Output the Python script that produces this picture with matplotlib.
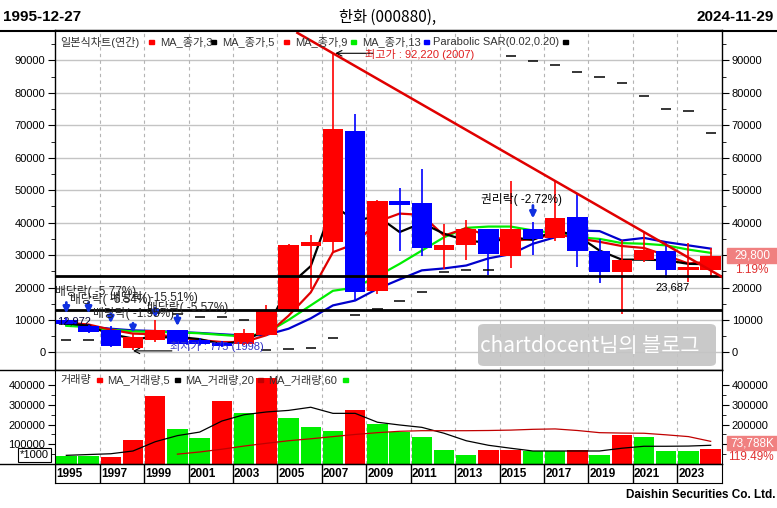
import numpy as np
import matplotlib
matplotlib.use('Agg')
import matplotlib.pyplot as plt
from matplotlib.patches import Rectangle, FancyBboxPatch
from matplotlib.lines import Line2D

plt.rcParams['font.family'] = ['Liberation Sans', 'Noto Sans CJK KR', 'DejaVu Sans']

# yearly candles 1995 - 2024
years = list(range(1995, 2025))
opens = [9900, 8000, 6800, 1450, 3700, 6800, 3700, 3000, 2500, 5500,
         13000, 32800, 34000, 68400, 18900, 46800, 46100, 31700, 33200, 38100,
         29700, 37900, 35200, 41900, 31400, 24800, 28400, 31400, 25500, 25300]
highs = [10500, 8300, 8000, 5800, 9900, 7000, 4500, 3500, 7100, 14500,
         33500, 36300, 92220, 73400, 47000, 50800, 56600, 39500, 40700, 38200,
         53000, 40200, 52800, 48900, 35000, 34700, 37100, 33600, 33700, 32100]
lows = [8500, 6000, 1700, 775, 3200, 2500, 2200, 1800, 2300, 5000,
        12500, 19600, 30900, 16000, 18000, 31200, 29700, 25800, 28400, 24000,
        26100, 29900, 34500, 26300, 21400, 11900, 27800, 23000, 21700, 23687]
closes = [8700, 6300, 1850, 4700, 7000, 2700, 2600, 2000, 5900, 12700,
          33000, 34100, 69000, 18600, 46600, 45500, 32300, 33200, 38100, 30200,
          38100, 35000, 41500, 31200, 24800, 28400, 31700, 25300, 26400, 29800]

# moving averages of close (3, 5, 9, 13) and parabolic SAR
ma3 = [9000, 8200, 5600, 4300, 4500, 4800, 4100, 2500, 3600, 6900,
       20500, 26600, 45400, 40600, 42000, 37100, 39900, 36600, 34500, 33800,
       35500, 34700, 37600, 36000, 31400, 28600, 28600, 28400, 27300, 27200]
ma5 = [9200, 8600, 7000, 5800, 5600, 4700, 3800, 3200, 3200, 5300,
       11300, 18500, 30900, 33500, 40300, 42800, 42400, 36000, 38300, 35900,
       34400, 34900, 36600, 35200, 34100, 32800, 32200, 29900, 27400, 28000]
ma9 = [8200, 7800, 7000, 6500, 6300, 6200, 5900, 5400, 4900, 6000,
       10000, 14500, 19000, 20000, 23500, 27300, 31400, 35500, 38400, 38800,
       38800, 37600, 36800, 35500, 35000, 33700, 33500, 33000, 31700, 30700]
ma13 = [8500, 8000, 7300, 6800, 6600, 6300, 6000, 5600, 5200, 5400,
        7300, 10500, 14500, 16000, 19600, 22500, 25300, 25900, 26800, 29000,
        30300, 33500, 35500, 37600, 37400, 34500, 35300, 34000, 33000, 32000]
sar = [3700, 3700, 12972, 12750, 12270, 11800, 10900, 10900, 9900, 775,
       1050, 1500, 4400, 11400, 13500, 16000, 18700, 24750, 25280, 25280,
       91250, 89800, 88700, 86600, 85000, 83200, 78900, 74900, 74300, 67500]

# volume (thousand shares)
volume = [40, 40, 38, 122, 345, 178, 132, 320, 259, 437,
          234, 188, 168, 274, 203, 160, 139, 71, 46, 71,
          71, 64, 64, 70, 46, 147, 139, 66, 66, 76]
vol_colors = ['g', 'g', 'r', 'r', 'r', 'g', 'g', 'r', 'g', 'r',
              'g', 'g', 'g', 'r', 'g', 'g', 'g', 'g', 'g', 'r',
              'r', 'g', 'g', 'r', 'g', 'r', 'g', 'g', 'g', 'r']
vol_ma5 = [44, 48, 52, 66, 113, 144, 162, 218, 250, 264,
           272, 288, 257, 257, 212, 198, 186, 156, 118, 95,
           80, 66, 66, 66, 66, 80, 90, 90, 91, 95]
vol_ma20 = [None] * 5 + [50, 61, 75, 91, 105, 118, 128, 139, 150, 159,
                         166, 169, 169, 169, 170, 172, 176, 178, 170, 159,
                         157, 156, 148, 139, 115]

support_levels = [23687, 12972]
last_close, last_chg = '29,800', '1.19%'
last_vol, last_vol_chg = '73,788K', '119.49%'

RED, BLUE, LIME = '#ff0000', '#0000ff', '#00ee00'
W, H = 777, 508
fig = plt.figure(figsize=(W / 100, H / 100), dpi=100)


def fx(px):
    return px / W


def fy(py):
    return 1 - py / H


def ptext(px, py, s, **kw):
    kw.setdefault('fontsize', 8)
    kw.setdefault('va', 'center')
    return fig.text(fx(px), fy(py), s, **kw)


n = len(years)
idx = np.arange(n)
XL = (-0.51, n + 0.51 - 1)

ax = fig.add_axes([fx(55), fy(370), fx(722) - fx(55), fy(30) - fy(370)])
axv = fig.add_axes([fx(55), fy(464), fx(722) - fx(55), fy(370) - fy(464)])
axd = fig.add_axes([fx(55), fy(483), fx(722) - fx(55), fy(464) - fy(483)])

# ---------------- price panel
ax.set_xlim(*XL)
ax.set_ylim(-5420, 99400)
for lvl in range(0, 100000, 10000):
    ax.axhline(lvl, color='#c4c4c4', lw=1, zorder=0)
for a in (ax, axv):
    for i in range(2, n, 2):
        a.axvline(i - 0.5, color='#b4b4b4', lw=0.8, ls=(0, (3, 3)), zorder=0)

for i in idx:
    o, h, l, c = opens[i], highs[i], lows[i], closes[i]
    col = RED if c >= o else BLUE
    ax.vlines(i, l, h, color=col, lw=1.2, zorder=3)
    ax.bar(i, max(abs(c - o), 250), bottom=min(o, c), width=0.92,
           color=col, zorder=4)

ax.plot(idx, ma13, color='#0000cc', lw=1.6, zorder=2)
ax.plot(idx, ma9, color=LIME, lw=1.6, zorder=2)
ax.plot(idx, ma5, color='#e00000', lw=1.6, zorder=2)
ax.plot(idx, ma3, color='black', lw=1.6, zorder=2)
ax.hlines(sar, idx - 0.23, idx + 0.23, color='black', lw=1.1, zorder=5)

for lvl in support_levels:
    ax.axhline(lvl, color='black', lw=2, zorder=6)

# trend line through the 2007 high
top = int(np.argmax(highs))
slope = (37100 - highs[top]) / (26 - top)
tx = np.array([10.4, XL[1]])
ax.plot(tx, highs[top] + slope * (tx - top), color='#e00000', lw=1.8, zorder=6)

# current-bar marker at right edge
ax.add_patch(Rectangle((30.3, 30000), 0.21, 8200, color=RED, zorder=7))
ax.add_patch(Rectangle((30.3, 21400), 0.21, 8600, color=BLUE, zorder=7))

# dividend / rights arrows
arrows = [(0, 15400, 12000), (1, 15400, 12000), (2, 12000, 9000),
          (3, 9000, 6000), (4, 13700, 10600), (5, 11500, 8100), (21, 45300, 41300)]
for i, y0, y1 in arrows:
    ax.annotate('', xy=(i, y1), xytext=(i, y0),
                arrowprops=dict(arrowstyle='-|>', color='#1030e0', lw=2,
                                mutation_scale=9, shrinkA=0, shrinkB=0), zorder=8)

ax.annotate('', xy=(top + 0.1, highs[top]), xytext=(13.8, highs[top]),
            arrowprops=dict(arrowstyle='->', color='black', lw=0.8,
                            shrinkA=0, shrinkB=0))
low_i = int(np.argmin(lows))
ax.annotate('', xy=(low_i, lows[low_i] - 300), xytext=(4.75, lows[low_i] - 300),
            arrowprops=dict(arrowstyle='->', color='black', lw=0.8,
                            shrinkA=0, shrinkB=0))

ax.set_yticks(range(0, 100000, 10000))
ax.set_yticks(range(5000, 100000, 10000), minor=True)
ax.set_xticks([])
ax.tick_params(axis='y', which='both', direction='out', left=True, right=True,
               labelleft=True, labelright=True, labelsize=8, pad=2)
ax.tick_params(axis='y', which='major', length=5)
ax.tick_params(axis='y', which='minor', length=3)
# right label at 30000 sits under the last-close box
ax.yaxis.get_major_ticks()[3].label2.set_visible(False)
for s in ax.spines.values():
    s.set_linewidth(1)

# ---------------- volume panel
axv.set_xlim(*XL)
axv.set_ylim(0, 477000)
axv.bar(idx, np.array(volume) * 1000, width=0.92,
        color=[RED if c == 'r' else LIME for c in vol_colors], zorder=2)
axv.plot(idx, np.array(vol_ma5) * 1000, color='black', lw=0.9, zorder=3)
vm20 = np.array([np.nan if v is None else v * 1000 for v in vol_ma20])
axv.plot(idx, vm20, color='#c00000', lw=0.9, zorder=3)
axv.set_yticks(range(100000, 500000, 100000))
axv.set_yticks(range(50000, 450000, 100000), minor=True)
axv.set_yticklabels([str(v) for v in range(100000, 500000, 100000)])
axv.set_xticks([])
axv.tick_params(axis='y', which='both', direction='out', left=True, right=True,
                labelleft=True, labelright=True, labelsize=8, pad=2)
axv.tick_params(axis='y', which='major', length=5)
axv.tick_params(axis='y', which='minor', length=3)
axv.yaxis.get_major_ticks()[0].label2.set_visible(False)

# ---------------- date strip
axd.set_xlim(*XL)
axd.set_ylim(0, 1)
axd.set_xticks([])
axd.set_yticks([])
for i in range(0, n, 2):
    axd.axvline(i - 0.5, color='black', lw=1)
    axd.text(i - 0.45, 0.45, str(years[i]), fontsize=8.5, fontweight='bold',
             va='center', ha='left')

# ---------------- frame lines & titles
fig.add_artist(Line2D([0, 1], [fy(31), fy(31)], color='black', lw=1.5))
fig.add_artist(Line2D([0, fx(722)], [fy(370), fy(370)], color='black', lw=1))
fig.add_artist(Line2D([0, fx(722)], [fy(464), fy(464)], color='black', lw=1))

ptext(3, 17, '1995-12-27', fontsize=11, fontweight='bold',
      family=['Liberation Sans Narrow', 'Liberation Sans'])
ptext(774, 17, '2024-11-29', fontsize=11, fontweight='bold', ha='right',
      family=['Liberation Sans Narrow', 'Liberation Sans'])
ptext(388, 17, '한화 (000880),', fontsize=11, ha='center',
      family=['Noto Sans CJK KR', 'DejaVu Sans'])
ptext(775, 495, 'Daishin Securities Co. Ltd.', fontsize=8.5, fontweight='bold', ha='right')

# price legend
for s, x in [('일본식차트(연간)', 60), ('MA_종가,3', 160), ('MA_종가,5', 222),
             ('MA_종가,9', 295), ('MA_종가,13', 362), ('Parabolic SAR(0.02,0.20)', 433)]:
    ptext(x, 42, s, color='#333333')
for c, x in [(RED, 149), ('black', 211), (RED, 284), (LIME, 351), (BLUE, 424), ('black', 563)]:
    fig.add_artist(Rectangle((fx(x), fy(44)), fx(5), 4 / H, color=c))

# volume legend
for s, x in [('거래량', 60), ('MA_거래량,5', 107), ('MA_거래량,20', 185), ('MA_거래량,60', 268)]:
    ptext(x, 380, s, color='#333333')
for c, x in [(RED, 97), ('black', 175), ('#c00000', 258), (LIME, 343)]:
    fig.add_artist(Rectangle((fx(x), fy(382)), fx(5), 4 / H, color=c))

ptext(20, 455, '*1000', fontsize=8,
      bbox=dict(boxstyle='square,pad=0.15', fc='white', ec='black', lw=0.8))

# annotations
ptext(365, 55, '최고가 : 92,220 (2007)', color='#e02020')
ptext(170, 347, '최저가 : 775 (1998)', color='#3434c8')
ptext(481, 200, '권리락( -2.72%)', color='black', fontsize=8.5)
ptext(655, 288, '23,687', color='black')
ptext(57, 322, '12,972', color='#000033')
# the dividend labels pile up on each other in the source chart as well
for s, x, y in [('배당락( -5.77%)', 55, 292), ('배당락( -6.54%)', 70, 300),
                ('배당락( -15.51%)', 110, 298), ('배당락( -1.95%)', 93, 314),
                ('배당락( -5.57%)', 147, 307)]:
    ptext(x, y, s, color='#222222', fontsize=8.5)

# right side value boxes
fig.add_artist(Rectangle((fx(727), fy(263)), fx(50), 15 / H, color='#f08080'))
ptext(770, 255, last_close, color='white', ha='right', fontsize=8.5)
ptext(768, 270, last_chg, color='#e03030', ha='right', fontsize=8.5)
fig.add_artist(Rectangle((fx(727), fy(450)), fx(50), 14 / H, color='#f08080'))
ptext(774, 443, last_vol, color='white', ha='right', fontsize=8.5)
ptext(774, 457, last_vol_chg, color='#e03030', ha='right', fontsize=8.5)

# watermark
fig.add_artist(FancyBboxPatch((fx(478), fy(366)), fx(238), 42 / H,
                              boxstyle='round,pad=0,rounding_size=0.008',
                              fc='#c4c4c4', ec='none', alpha=0.9, zorder=10))
ptext(590, 346, 'chartdocent님의 블로그', color='white', fontsize=15, ha='center',
      family=['Noto Sans CJK KR', 'DejaVu Sans'], zorder=11)

fig.savefig('out.png', dpi=100)
